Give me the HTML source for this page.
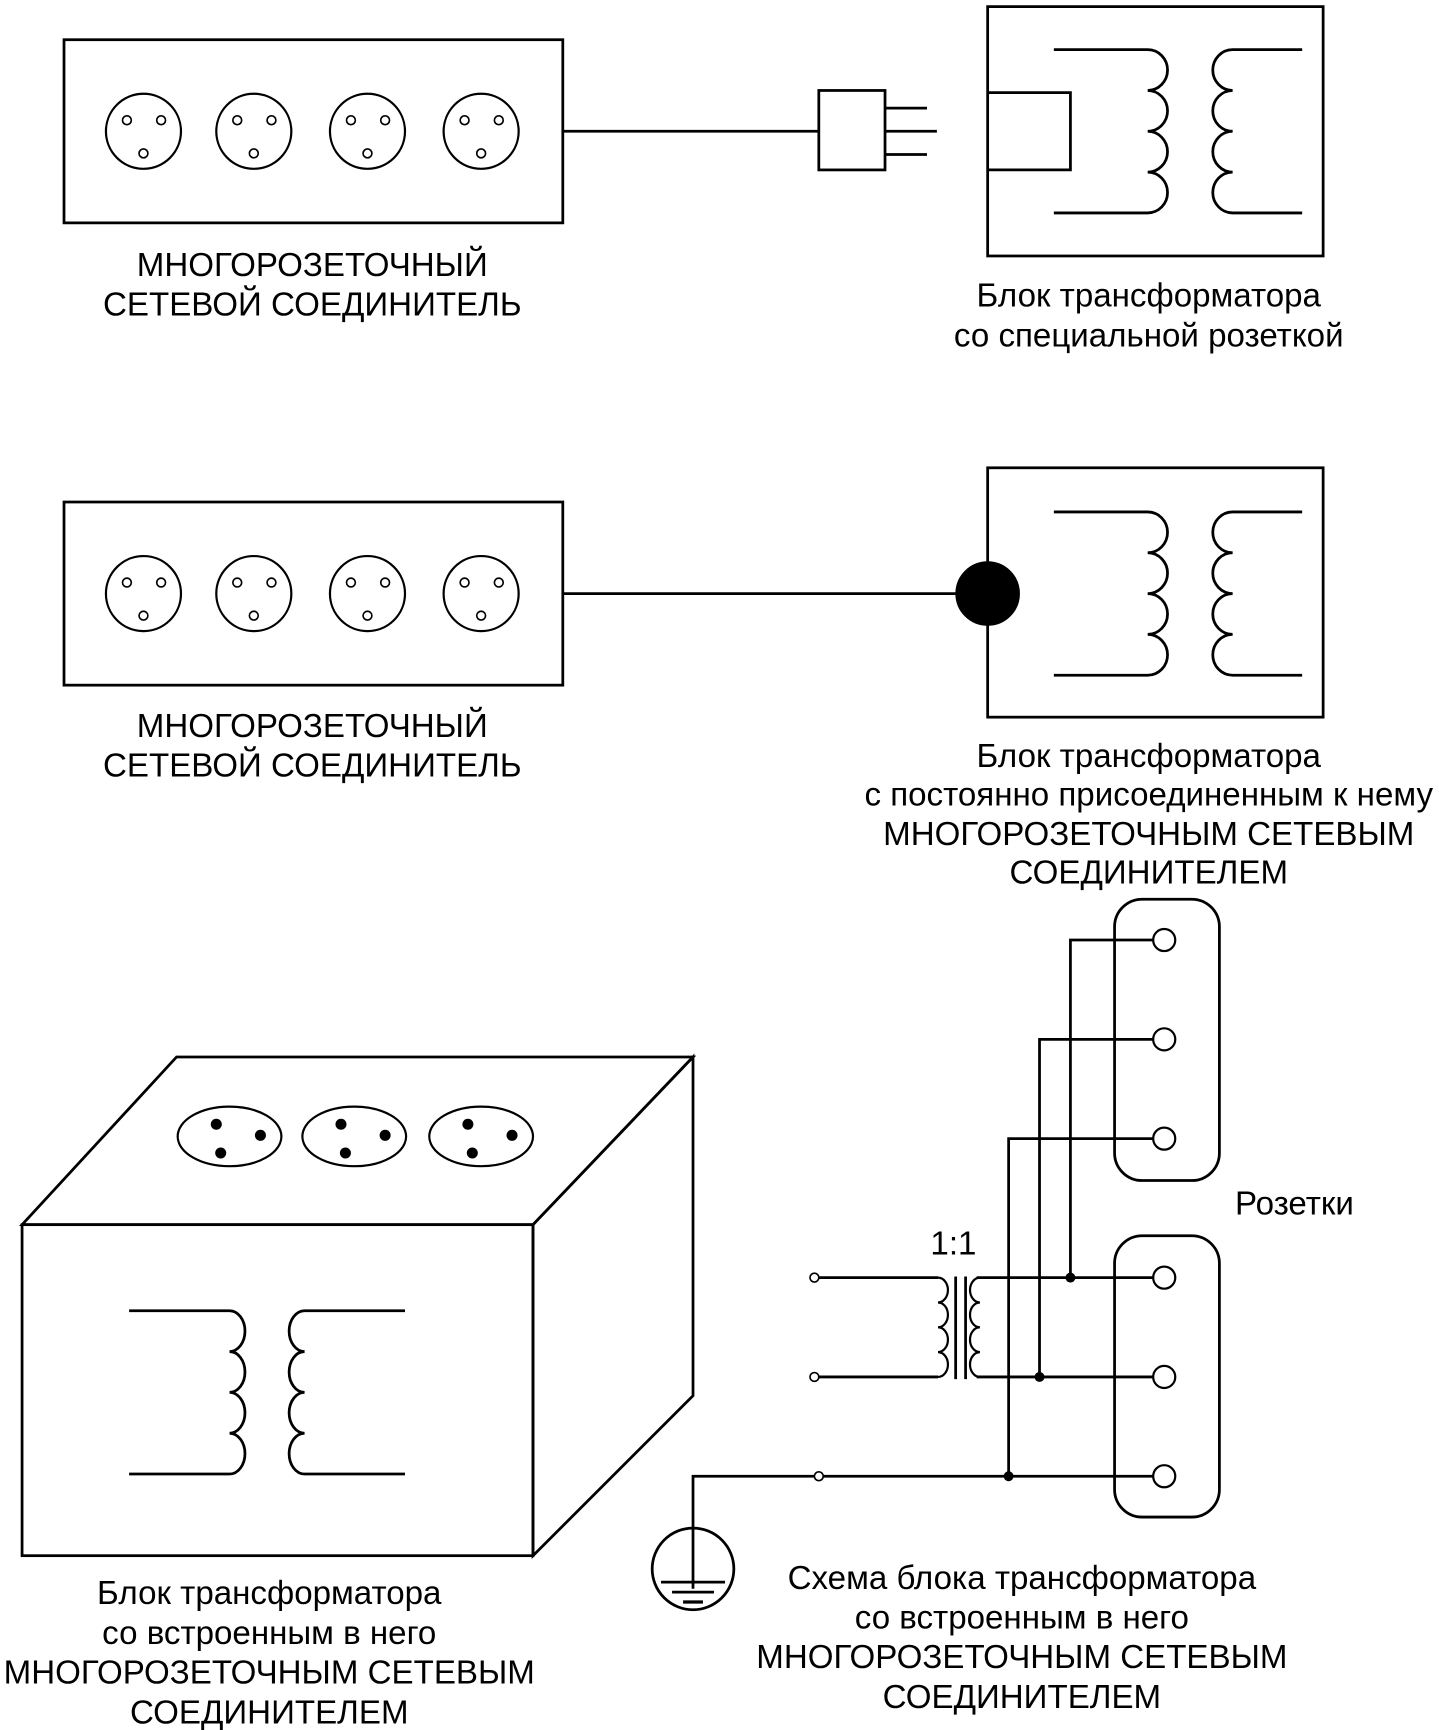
<!DOCTYPE html>
<html><head><meta charset="utf-8"><style>
html,body{margin:0;padding:0;background:#fff;}
svg{display:block;}
text{font-family:"Liberation Sans",Arial,sans-serif;font-size:30px;fill:#000;}
</style></head><body>
<svg width="1439" height="1730" viewBox="0 0 1304 1568" preserveAspectRatio="none" xmlns="http://www.w3.org/2000/svg">
<g fill="none" stroke="#000" stroke-width="2.5">
<rect x="58" y="36" width="452" height="166"/>
<g stroke-width="2">
<circle cx="130" cy="119" r="34"/><circle cx="230" cy="119" r="34"/><circle cx="333" cy="119" r="34"/><circle cx="436" cy="119" r="34"/>
</g>
<g stroke-width="1.5">
<circle cx="115" cy="109" r="4"/><circle cx="146" cy="109" r="4"/><circle cx="130" cy="139" r="4"/>
<circle cx="215" cy="109" r="4"/><circle cx="246" cy="109" r="4"/><circle cx="230" cy="139" r="4"/>
<circle cx="318" cy="109" r="4"/><circle cx="349" cy="109" r="4"/><circle cx="333" cy="139" r="4"/>
<circle cx="421" cy="109" r="4"/><circle cx="452" cy="109" r="4"/><circle cx="436" cy="139" r="4"/>
</g>
<line x1="510" y1="119" x2="742" y2="119"/>
<rect x="742" y="82" width="60" height="72"/>
<line x1="802" y1="98" x2="840" y2="98"/><line x1="802" y1="119" x2="849" y2="119"/><line x1="802" y1="140" x2="840" y2="140"/>
<rect x="895" y="6" width="304" height="226"/>
<polyline points="895,84 970,84 970,154 895,154"/>
<path d="M955,45 H1040 A18,18.5 0 0 1 1040,82 A18,18.5 0 0 1 1040,119 A18,18.5 0 0 1 1040,156 A18,18.5 0 0 1 1040,193 H955"/>
<path d="M1180,45 H1117 A18,18.5 0 0 0 1117,82 A18,18.5 0 0 0 1117,119 A18,18.5 0 0 0 1117,156 A18,18.5 0 0 0 1117,193 H1180"/>

<rect x="58" y="455" width="452" height="166"/>
<g stroke-width="2">
<circle cx="130" cy="538" r="34"/><circle cx="230" cy="538" r="34"/><circle cx="333" cy="538" r="34"/><circle cx="436" cy="538" r="34"/>
</g>
<g stroke-width="1.5">
<circle cx="115" cy="528" r="4"/><circle cx="146" cy="528" r="4"/><circle cx="130" cy="558" r="4"/>
<circle cx="215" cy="528" r="4"/><circle cx="246" cy="528" r="4"/><circle cx="230" cy="558" r="4"/>
<circle cx="318" cy="528" r="4"/><circle cx="349" cy="528" r="4"/><circle cx="333" cy="558" r="4"/>
<circle cx="421" cy="528" r="4"/><circle cx="452" cy="528" r="4"/><circle cx="436" cy="558" r="4"/>
</g>
<line x1="510" y1="538" x2="868" y2="538"/>
<rect x="895" y="424" width="304" height="226"/>
<circle cx="895" cy="538" r="28" fill="#000"/>
<path d="M955,464 H1040 A18,18.5 0 0 1 1040,501 A18,18.5 0 0 1 1040,538 A18,18.5 0 0 1 1040,575 A18,18.5 0 0 1 1040,612 H955"/>
<path d="M1180,464 H1117 A18,18.5 0 0 0 1117,501 A18,18.5 0 0 0 1117,538 A18,18.5 0 0 0 1117,575 A18,18.5 0 0 0 1117,612 H1180"/>

<polygon points="20,1110 160,958 628,958 483,1110"/>
<rect x="20" y="1110" width="463" height="300"/>
<polygon points="483,1110 628,958 628,1265 483,1410"/>
<g stroke-width="2">
<ellipse cx="208" cy="1030" rx="47" ry="27"/><ellipse cx="321" cy="1030" rx="47" ry="27"/><ellipse cx="436" cy="1030" rx="47" ry="27"/>
</g>
<path d="M117,1188 H208 A14,18.5 0 0 1 208,1225 A14,18.5 0 0 1 208,1262 A14,18.5 0 0 1 208,1299 A14,18.5 0 0 1 208,1336 H117"/>
<path d="M367,1188 H276 A14,18.5 0 0 0 276,1225 A14,18.5 0 0 0 276,1262 A14,18.5 0 0 0 276,1299 A14,18.5 0 0 0 276,1336 H367"/>

<rect x="1010" y="815" width="95" height="255" rx="25"/>
<rect x="1010" y="1120" width="95" height="255" rx="25"/>
<g stroke-width="2">
<circle cx="1055" cy="852" r="10" fill="#fff"/><circle cx="1055" cy="942" r="10" fill="#fff"/><circle cx="1055" cy="1032" r="10" fill="#fff"/>
<circle cx="1055" cy="1158" r="10" fill="#fff"/><circle cx="1055" cy="1248" r="10" fill="#fff"/><circle cx="1055" cy="1338" r="10" fill="#fff"/>
</g>
<polyline points="970,1158 970,852 1045,852"/>
<polyline points="942,1248 942,942 1045,942"/>
<polyline points="914,1338 914,1032 1045,1032"/>
<line x1="885" y1="1158" x2="1045" y2="1158"/>
<line x1="885" y1="1248" x2="1045" y2="1248"/>
<line x1="742" y1="1338" x2="1045" y2="1338"/>
<line x1="742" y1="1158" x2="850" y2="1158"/>
<line x1="742" y1="1248" x2="850" y2="1248"/>
<path stroke-width="2" d="M850,1158 A9,11.25 0 0 1 850,1180.5 A9,11.25 0 0 1 850,1203 A9,11.25 0 0 1 850,1225.5 A9,11.25 0 0 1 850,1248"/>
<path stroke-width="2" d="M888,1158 A9,11.25 0 0 0 888,1180.5 A9,11.25 0 0 0 888,1203 A9,11.25 0 0 0 888,1225.5 A9,11.25 0 0 0 888,1248"/>
<line x1="866" y1="1157" x2="866" y2="1250"/><line x1="875" y1="1157" x2="875" y2="1250"/>
<g stroke-width="1.5" fill="#fff">
<circle cx="738" cy="1158" r="4"/><circle cx="738" cy="1248" r="4"/><circle cx="742" cy="1338" r="4"/>
</g>
<polyline points="738,1338 628,1338 628,1440"/>
<circle cx="628" cy="1422" r="37"/>
<line x1="599" y1="1434" x2="657" y2="1434"/><line x1="609" y1="1443" x2="647" y2="1443"/><line x1="619" y1="1452" x2="637" y2="1452" stroke-width="3"/>
</g>
<g fill="#000">
<circle cx="970" cy="1158" r="4.5"/><circle cx="942" cy="1248" r="4.5"/><circle cx="914" cy="1338" r="4.5"/>
<circle cx="196" cy="1019" r="5"/><circle cx="236" cy="1029" r="5"/><circle cx="200" cy="1045" r="5"/>
<circle cx="309" cy="1019" r="5"/><circle cx="349" cy="1029" r="5"/><circle cx="313" cy="1045" r="5"/>
<circle cx="424" cy="1019" r="5"/><circle cx="464" cy="1029" r="5"/><circle cx="428" cy="1045" r="5"/>
</g>
<g text-anchor="middle">
<text x="283" y="250">МНОГОРОЗЕТОЧНЫЙ</text>
<text x="283" y="286">СЕТЕВОЙ СОЕДИНИТЕЛЬ</text>
<text x="1041" y="278">Блок трансформатора</text>
<text x="1041" y="314">со специальной розеткой</text>
<text x="283" y="668">МНОГОРОЗЕТОЧНЫЙ</text>
<text x="283" y="704">СЕТЕВОЙ СОЕДИНИТЕЛЬ</text>
<text x="1041" y="695">Блок  трансформатора</text>
<text x="1041" y="730">с постоянно присоединенным к нему</text>
<text x="1041" y="766">МНОГОРОЗЕТОЧНЫМ СЕТЕВЫМ</text>
<text x="1041" y="801">СОЕДИНИТЕЛЕМ</text>
<text x="1173" y="1101">Розетки</text>
<text x="864" y="1137">1:1</text>
<text x="926" y="1440">Схема блока трансформатора</text>
<text x="926" y="1476">со встроенным в него</text>
<text x="926" y="1512">МНОГОРОЗЕТОЧНЫМ СЕТЕВЫМ</text>
<text x="926" y="1548">СОЕДИНИТЕЛЕМ</text>
<text x="244" y="1454">Блок трансформатора</text>
<text x="244" y="1490">со встроенным в него</text>
<text x="244" y="1526">МНОГОРОЗЕТОЧНЫМ СЕТЕВЫМ</text>
<text x="244" y="1562">СОЕДИНИТЕЛЕМ</text>
</g>
</svg>
</body></html>
